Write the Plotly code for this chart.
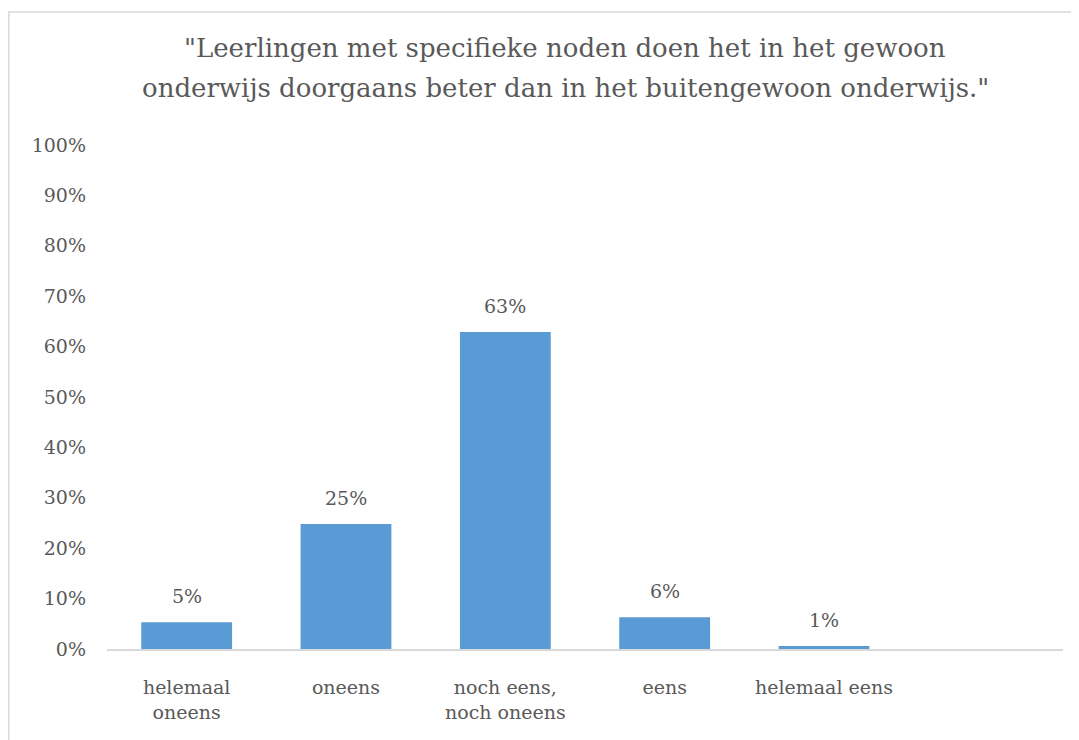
import plotly.graph_objects as go

categories = ["helemaal<br>oneens", "oneens", "noch eens,<br>noch oneens", "eens", "helemaal eens"]
values = [0.053, 0.248, 0.629, 0.063, 0.006]
title_lines = ["\"Leerlingen met specifieke noden doen het in het gewoon",
               "onderwijs doorgaans beter dan in het buitengewoon onderwijs.\""]
y_ticks = [0, 0.1, 0.2, 0.3, 0.4, 0.5, 0.6, 0.7, 0.8, 0.9, 1.0]

# page body has an 8px margin
W, H = 1071, 732
ml, mr, mt, mb = 99, 16, 137, 91
pw, ph = W - ml - mr, H - mt - mb

FONT = "DejaVu Serif"
GREY = "#595959"
FS = 19

fig = go.Figure(go.Bar(
    x=categories, y=values,
    marker=dict(color="#5B9BD5", line=dict(width=0)),
    width=0.57,
    hoverinfo="skip",
))

for c, v in zip(categories, values):
    fig.add_annotation(x=c, y=v, text=f"{v:.0%}", showarrow=False,
                       xanchor="center", yanchor="middle", yshift=26,
                       font=dict(family=FONT, size=FS, color=GREY))

fig.update_layout(
    width=W, height=H,
    margin=dict(l=ml, r=mr, t=mt, b=mb),
    paper_bgcolor="white", plot_bgcolor="white",
    showlegend=False,
    font=dict(family=FONT, color=GREY),
    xaxis=dict(type="category", range=[-0.5, 5.5], showgrid=False,
               showline=True, linecolor="#D9D9D9", linewidth=2,
               ticks="", ticklabelstandoff=20,
               tickfont=dict(family=FONT, size=FS, color=GREY)),
    yaxis=dict(range=[0, 1], tickvals=y_ticks, tickformat=".0%",
               showgrid=False, zeroline=False, showline=False, ticks="",
               ticklabelstandoff=20,
               tickfont=dict(family=FONT, size=FS, color=GREY)),
)

# title lines
for i, line in enumerate(title_lines):
    fig.add_annotation(text=line, xref="paper", yref="paper",
                       x=(557 - ml) / pw, y=(H - mb - (40 + 40 * i)) / ph,
                       xanchor="center", yanchor="middle", showarrow=False,
                       font=dict(family=FONT, size=26, color=GREY))

# chart frame
fig.add_shape(type="rect", xref="paper", yref="paper",
              x0=(0.75 - ml) / pw, x1=(1100 - ml) / pw,
              y0=(H - mb - 760) / ph, y1=(H - mb - 4) / ph,
              line=dict(color="#D9D9D9", width=1.5), fillcolor="rgba(0,0,0,0)", layer="below")

fig.write_html("out.html")
